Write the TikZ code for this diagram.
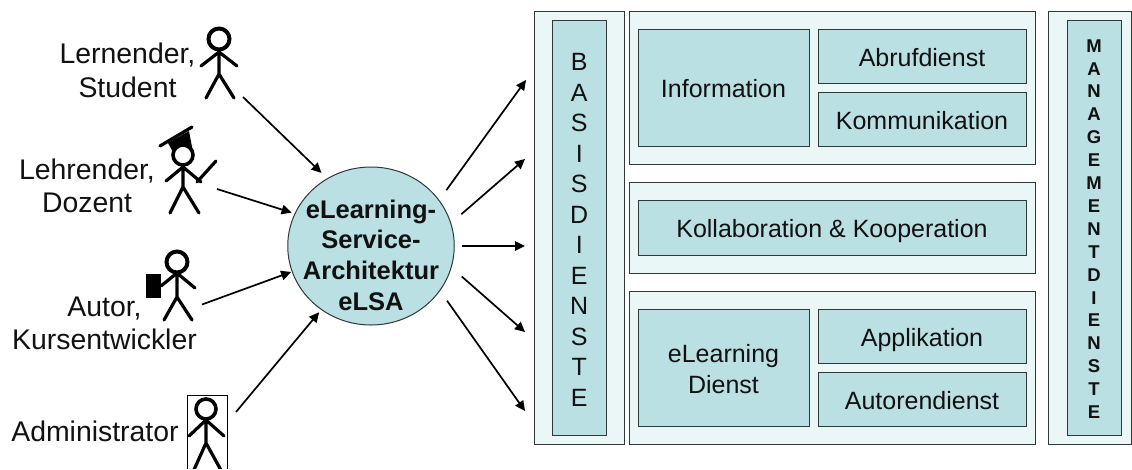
\documentclass[tikz,border=0pt]{standalone}
\usepackage{fontspec}
\setmainfont{Liberation Sans}
\usetikzlibrary{arrows.meta,shapes.geometric}
\definecolor{panelfill}{HTML}{EBF6F6}
\definecolor{boxfill}{HTML}{BAE0E3}
\definecolor{edgecol}{HTML}{303838}
\definecolor{inkcol}{HTML}{111111}
\newcommand{\capline}[1]{\raisebox{-10pt}[0pt][0pt]{#1}}
\tikzset{
  x=1pt,y=-1pt,
  wh/.style 2 args={minimum width=#1pt,minimum height=#2pt},
  panel/.style={draw=edgecol,fill=panelfill,line width=1pt,rectangle,inner sep=0pt,anchor=center},
  svcbox/.style={draw=edgecol,fill=boxfill,line width=1pt,rectangle,inner sep=0pt,anchor=center,align=center,text=inkcol,font=\fontsize{25}{29}\selectfont},
  overtext/.style={align=center,inner sep=0pt,text=inkcol},
  actorlabel/.style={align=center,inner sep=0pt,text=inkcol,font=\fontsize{28.4}{33.5}\selectfont},
  stick/.style={draw=black,line width=3.2pt,line cap=round,line join=round},
  headring/.style={draw=black,fill=white,line width=4pt},
  flow/.style={draw=black,line width=1.7pt,-{Triangle[length=10pt,width=9.5pt]}},
}
\begin{document}
\begin{tikzpicture}
\useasboundingbox (0,0) rectangle (1132,469);
% panels
\node[panel,wh={90.5}{433}] (pbasis) at (579.25,227.5) {};
\node[panel,wh={406}{153.5}] (ptop) at (832,87.75) {};
\node[panel,wh={406}{91}] (pmid) at (832,227.5) {};
\node[panel,wh={406}{153}] (pbot) at (832,367.5) {};
\node[panel,wh={83}{433}] (pmgmt) at (1089.5,227.5) {};
% boxes
\node[svcbox,wh={54.5}{415}] (basis) at (579.25,227.5) {};
\node[overtext,font=\fontsize{25}{30.5}\selectfont] (basistext) at (579.25,230) {B\\A\\S\\I\\S\\D\\I\\E\\N\\S\\T\\E};
\node[svcbox,wh={171}{117}] (info) at (723.5,87.5) {\capline{Information}};
\node[svcbox,wh={208}{54}] (abruf) at (922,56) {\capline{Abrufdienst}};
\node[svcbox,wh={208}{54}] (komm) at (922,119) {\capline{Kommunikation}};
\node[svcbox,wh={388}{55}] (koll) at (832,227.5) {\capline{Kollaboration \& Kooperation}};
\node[svcbox,wh={171}{117}] (elearn) at (723.5,367.5) {};
\node[overtext,font=\fontsize{25}{31.5}\selectfont] (elearntext) at (723.5,369) {eLearning\\Dienst};
\node[svcbox,wh={208}{54}] (appl) at (922,336) {\capline{Applikation}};
\node[svcbox,wh={208}{54}] (autor) at (922,399) {\capline{Autorendienst}};
\node[svcbox,wh={54}{415}] (mgmt) at (1094,227.5) {};
\node[overtext,font=\fontsize{18.5}{22.9}\bfseries\selectfont] (mgmttext) at (1094,229) {M\\A\\N\\A\\G\\E\\M\\E\\N\\T\\D\\I\\E\\N\\S\\T\\E};
% hub
\node[ellipse,draw=edgecol,fill=boxfill,line width=1pt,inner sep=0pt,minimum width=166.5pt,minimum height=158pt] (hub) at (371,246) {};
\node[overtext,font=\fontsize{25.5}{30.6}\bfseries\selectfont] (hubtext) at (371,255) {eLearning-\\Service-\\Architektur\\eLSA};
% labels
\node[actorlabel] (lern) at (127.5,70.5) {Lernender,\\Student};
\node[actorlabel] (lehr) at (87,186) {Lehrender,\\Dozent};
\node[actorlabel] (aut) at (104.5,323.5) {Autor,\\Kursentwickler};
\node[actorlabel] (adm) at (95,431) {Administrator};
% figure 1
\draw[headring] (219,39) circle (10.5);
\draw[stick] (219,50) -- (219,74) (201,66) -- (219,52) -- (237,66) (206,98) -- (219,74) -- (234,98);
% figure 2
\draw[stick] (160,146) -- (192,127);
\fill[black] (168,143) -- (189,131) -- (193,152) -- (173,152) -- cycle;
\draw[headring,line width=3.6pt] (183,155) circle (10);
\draw[stick] (183,166) -- (183,187) (166,181) -- (183,167) -- (201,182) (170,213) -- (183,187) -- (199,213) (197,182) -- (216,161);
% figure 3
\draw[headring] (177,262) circle (10.5);
\draw[stick] (177,273) -- (177,297) (161,286) -- (177,273) -- (195,288) (164,320) -- (177,297) -- (192,320);
\fill[black] (146,273.5) rectangle (161,298);
% figure 4
\draw[draw=black,line width=0.8pt] (187,469) -- (187,395.5) -- (227,395.5) -- (227,469);
\begin{scope}
\clip (180,390) rectangle (232,468);
\draw[headring,line width=3.6pt] (206,409) circle (10);
\draw[stick] (206,420) -- (206,443) (189,436) -- (206,420) -- (224,436) (193,472) -- (206,443) -- (222,472);
\end{scope}
% connector ends
\coordinate (a1) at (243,97);
\coordinate (a2) at (217,189);
\coordinate (a3) at (202,304.5);
\coordinate (a4) at (236,412);
\coordinate (o1) at (526,80);
\coordinate (o2) at (525,159);
\coordinate (o3) at (525,246);
\coordinate (o4) at (525,332);
\coordinate (o5) at (525,411);
\draw[flow,shorten >=7.8pt] (a1) -- (hub.123.8);
\draw[flow,shorten >=3.1pt] (a2) -- (hub.157.2);
\draw[flow,shorten >=0.7pt] (a3) -- (hub.198.9);
\draw[flow,shorten >=3.1pt] (a4) -- (hub.232.4);
\draw[flow,shorten <=12pt] (hub.34.3) -- (o1);
\draw[flow,shorten <=13.5pt] (hub.16.2) -- (o2);
\draw[flow,shorten <=6.75pt] (hub.0) -- (o3);
\draw[flow,shorten <=13.5pt] (hub.-15.6) -- (o4);
\draw[flow,shorten <=12pt] (hub.-33.7) -- (o5);
\end{tikzpicture}
\end{document}
